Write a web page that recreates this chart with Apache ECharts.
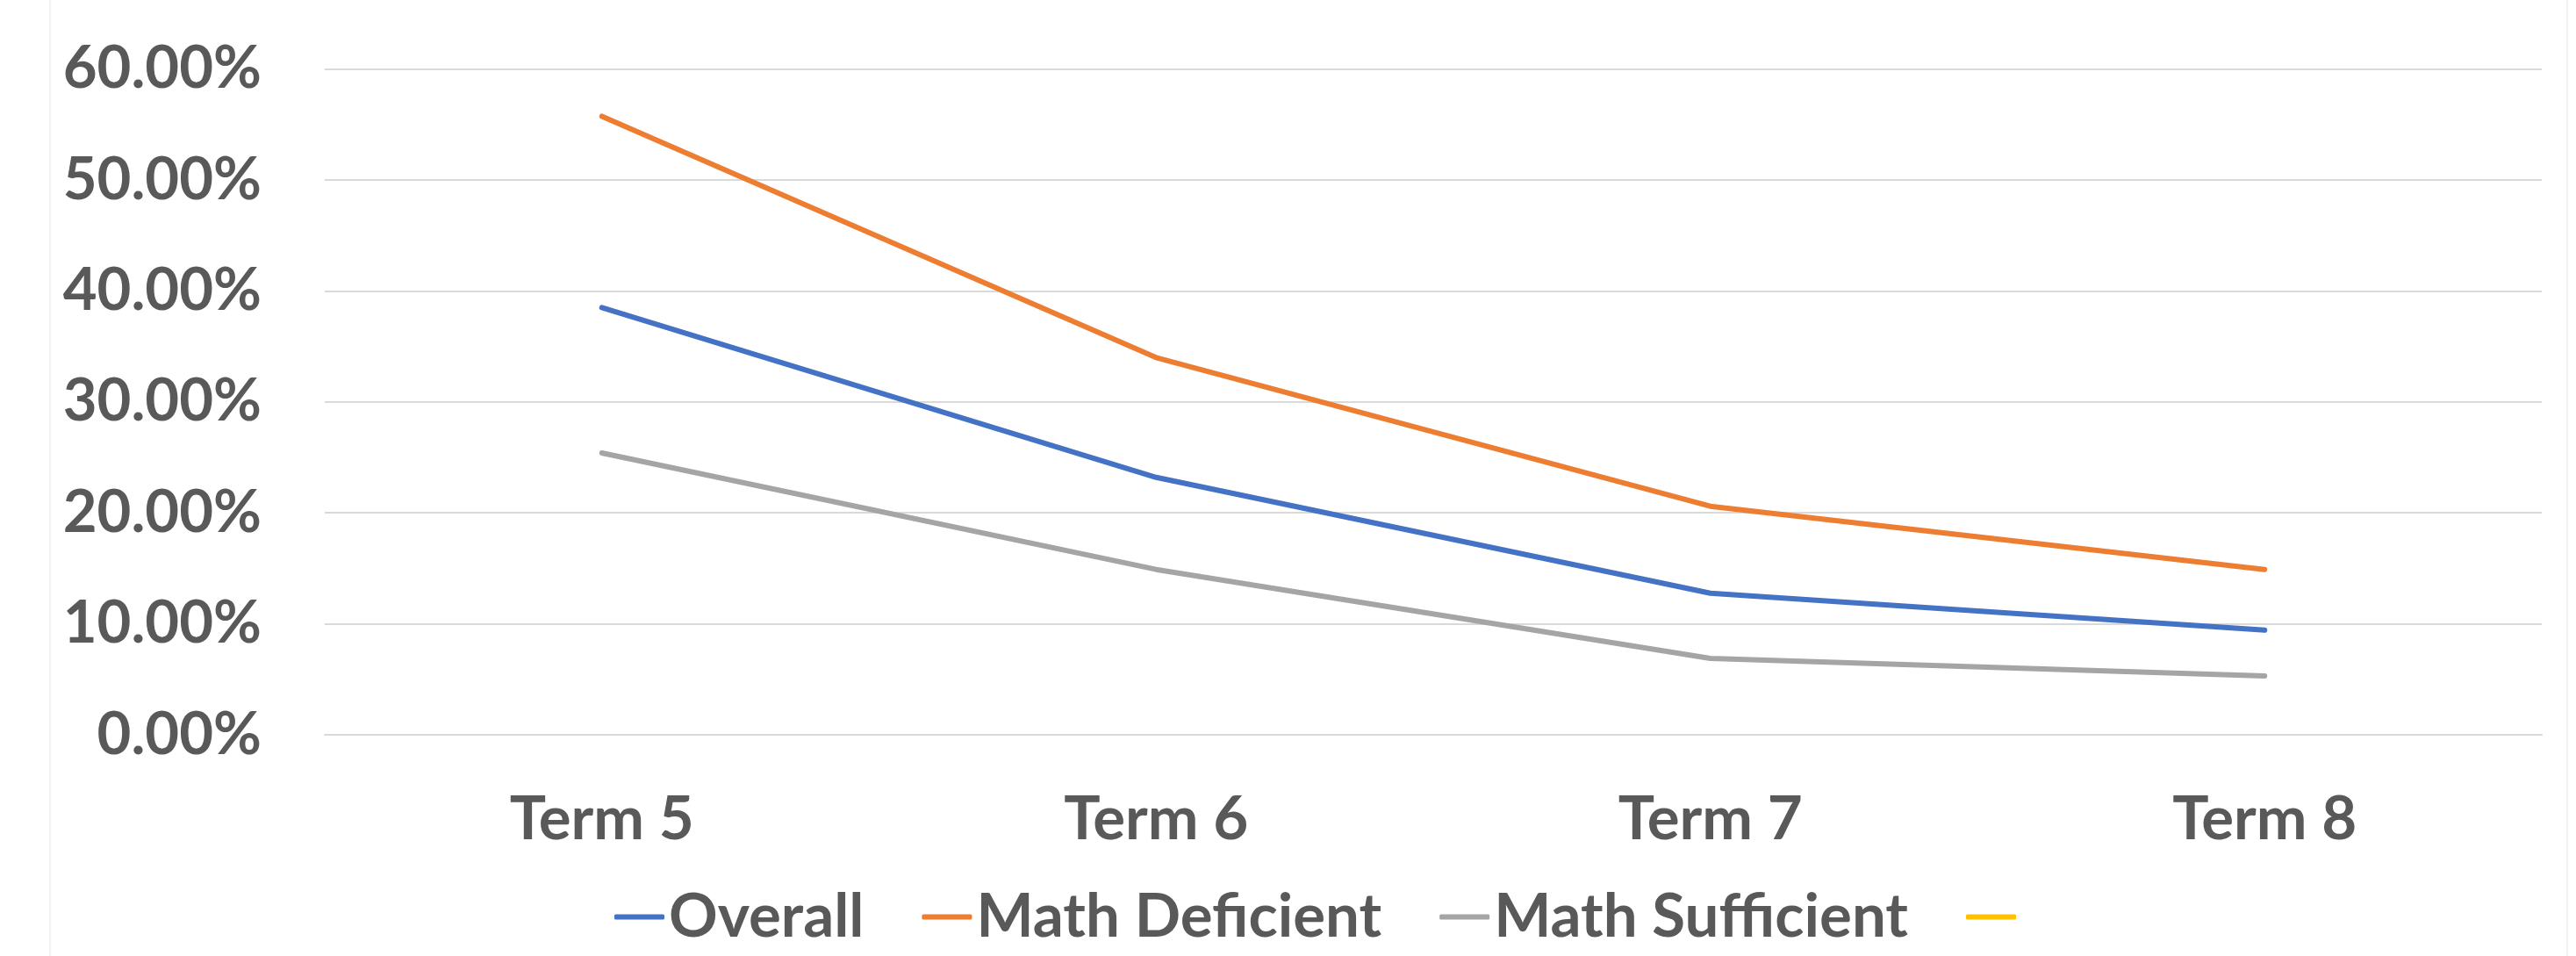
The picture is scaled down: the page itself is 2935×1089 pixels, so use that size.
<!DOCTYPE html>
<html>
<head>
<meta charset="utf-8">
<script src="https://cdn.jsdelivr.net/npm/echarts@6/dist/echarts.min.js"></script>
<style>
html,body{margin:0;padding:0;background:#fff;}
#frame{position:absolute;left:56px;top:-10px;width:2870px;height:1110px;border-left:2px solid #f2f2f2;border-right:2px solid #f2f2f2;box-sizing:border-box;pointer-events:none;}
#chart{position:absolute;left:0;top:0;width:2935px;height:1089px;}
</style>
</head>
<body>
<div id="chart"></div>
<div id="frame"></div>
<script>
const categories = ['Term 5', 'Term 6', 'Term 7', 'Term 8'];
const overall = [38.5, 23.2, 12.76, 9.44];
const mathDeficient = [55.75, 34.0, 20.6, 14.9];
const mathSufficient = [25.4, 14.9, 6.88, 5.3];
const emptySeries = [];
const seriesNames = ['Overall', 'Math Deficient', 'Math Sufficient', ' '];
const yTicks = { min: 0, max: 60, interval: 10 };

const textColor = '#595959';
const fontFamily = 'Lato, "Open Sans", sans-serif';
const colors = ['#4472C4', '#ED7D31', '#A5A5A5', '#FFC000'];

const chart = echarts.init(document.getElementById('chart'), null, { renderer: 'canvas' });

function lineSeries(name, data, color) {
  return {
    name: name,
    type: 'line',
    data: data,
    symbol: 'none',
    showSymbol: false,
    smooth: false,
    color: color,
    lineStyle: { color: color, width: 6, cap: 'round', join: 'round' },
    itemStyle: { color: color },
    emphasis: { disabled: true }
  };
}

chart.setOption({
  animation: false,
  backgroundColor: '#ffffff',
  grid: { left: 370, right: 39, top: 78.7, bottom: 252, containLabel: false },
  xAxis: {
    type: 'category',
    data: categories,
    boundaryGap: true,
    axisLine: { show: true, lineStyle: { color: '#D9D9D9', width: 2 } },
    axisTick: { show: false },
    axisLabel: { color: textColor, fontSize: 69, fontWeight: 'bold', fontFamily: fontFamily, margin: 62 }
  },
  yAxis: {
    type: 'value',
    min: yTicks.min,
    max: yTicks.max,
    interval: yTicks.interval,
    axisLine: { show: false },
    axisTick: { show: false },
    splitLine: { show: true, lineStyle: { color: '#D9D9D9', width: 2 } },
    axisLabel: {
      color: textColor, fontSize: 67, fontWeight: 'bold', fontFamily: fontFamily, margin: 72,
      formatter: v => v.toFixed(2) + '%'
    }
  },
  legend: {
    data: seriesNames,
    left: 700,
    top: 1010,
    padding: 0,
    itemWidth: 57,
    itemHeight: 6,
    itemGap: 66,
    icon: 'roundRect',
    textStyle: { color: textColor, fontSize: 69, fontWeight: 'bold', fontFamily: fontFamily }
  },
  series: [
    lineSeries(seriesNames[0], overall, colors[0]),
    lineSeries(seriesNames[1], mathDeficient, colors[1]),
    lineSeries(seriesNames[2], mathSufficient, colors[2]),
    lineSeries(seriesNames[3], emptySeries, colors[3])
  ]
});
</script>
</body>
</html>
